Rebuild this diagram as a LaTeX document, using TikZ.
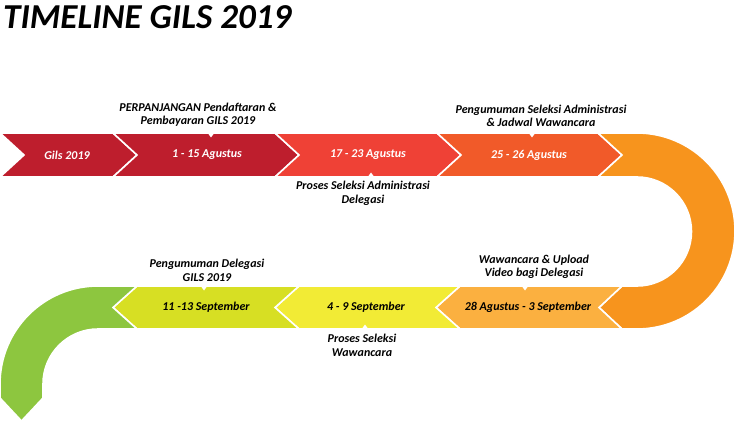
\documentclass[tikz,border=0pt]{standalone}
\usepackage{fontspec}
\setmainfont{Carlito}
\usepackage{tikz}
\usetikzlibrary{positioning}

\definecolor{crimson}{HTML}{BE1E2D}
\definecolor{redor}{HTML}{EF4136}
\definecolor{deepor}{HTML}{F15A29}
\definecolor{orangec}{HTML}{F7941D}
\definecolor{lightor}{HTML}{FBB040}
\definecolor{yell}{HTML}{F2EB35}
\definecolor{lime}{HTML}{D7DF23}
\definecolor{greenc}{HTML}{8DC63F}

\tikzset{
  band/.style={draw=white, line width=1.6pt, line join=miter},
  notch/.style={fill=white},
  bandtext/.style={font=\fontsize{12}{14}\selectfont\bfseries\itshape},
  infotext/.style={font=\fontsize{12}{13.5}\selectfont\bfseries\itshape, align=center, inner sep=1pt}
}

\begin{document}
\begin{tikzpicture}[x=1pt, y=-1pt]
    \useasboundingbox (0,0) rectangle (736,422);

    % --- title ---
    \node[anchor=base west, inner sep=0pt, font=\fontsize{35}{40}\selectfont\bfseries\itshape] (title) at (3,29) {TIMELINE GILS 2019};

    % --- top row ---
    \path[band, fill=crimson] (0,133) -- (113,133) -- (137,155) -- (113,177) -- (0,177) -- (24,155) -- cycle;
    \path[band, fill=crimson] (113,133) -- (275,133) -- (299,155) -- (275,177) -- (113,177) -- (137,155) -- cycle;
    \path[band, fill=redor] (275,133) -- (437,133) -- (461,155) -- (437,177) -- (275,177) -- (299,155) -- cycle;
    \path[band, fill=deepor] (437,133) -- (598,133) -- (622,155) -- (598,177) -- (437,177) -- (461,155) -- cycle;

    % --- bend ---
    \path[band, fill=orangec] (598,133) -- (637,133) arc[start angle=-90, end angle=90, radius=98]
        -- (622,329) -- (599,307.5) -- (622,286) -- (637,286)
        arc[start angle=90, end angle=-90, radius=54.5] -- (598,177) -- (622,155) -- cycle;

    % --- bottom row ---
    \path[band, fill=lightor] (460,286) -- (622,286) -- (599,307.5) -- (622,329) -- (460,329) -- (436,307.5) -- cycle;
    \path[band, fill=yell] (299,286) -- (460,286) -- (436,307.5) -- (460,329) -- (299,329) -- (275,307.5) -- cycle;
    \path[band, fill=lime] (137,286) -- (299,286) -- (275,307.5) -- (299,329) -- (137,329) -- (113,307.5) -- cycle;
    \path[band, fill=greenc] (137,286) -- (98,286) arc[start angle=-90, end angle=-180, radius=98]
        -- (0,398) -- (21.5,421) -- (43,398) -- (43,384)
        arc[start angle=180, end angle=270, radius=55] -- (137,329) -- (113,307.5) -- cycle;

    % --- pointers ---
    \fill[notch] (207,132) -- (215,132) -- (211,137.5) -- cycle;
    \fill[notch] (367,178) -- (375,178) -- (371,172.5) -- cycle;
    \fill[notch] (528,132) -- (536,132) -- (532,137.5) -- cycle;
    \fill[notch] (521,285) -- (529,285) -- (525,290.5) -- cycle;
    \fill[notch] (361,330) -- (369,330) -- (365,324.5) -- cycle;
    \fill[notch] (200,285) -- (208,285) -- (204,290.5) -- cycle;

    % --- dates ---
    \node[bandtext, white] (gils) at (67,155) {Gils 2019};
    \node[bandtext, white] (daftar) at (207,155) {1 - 15 Agustus};
    \node[bandtext, white] (seleksi) at (368,155) {17 - 23 Agustus};
    \node[bandtext, white] (umum) at (529,155) {25 - 26 Agustus};
    \node[bandtext] (wawan) at (528,307.5) {28 Agustus - 3 September};
    \node[bandtext] (proses) at (366,307.5) {4 - 9 September};
    \node[bandtext] (hasil) at (206,307.5) {11 -13 September};

    % --- notes ---
    \node[infotext, anchor=south] (daftarinfo) at (198,128) {PERPANJANGAN Pendaftaran \&\\Pembayaran GILS 2019};
    \node[infotext, anchor=north] (seleksiinfo) at (363,180) {Proses Seleksi Administrasi\\Delegasi};
    \node[infotext, anchor=south] (umuminfo) at (541,128) {Pengumuman Seleksi Administrasi\\\& Jadwal Wawancara};
    \node[infotext, anchor=south] (wawaninfo) at (534,280) {Wawancara \& Upload\\Video bagi Delegasi};
    \node[infotext, anchor=north] (prosesinfo) at (362,333) {Proses Seleksi\\Wawancara};
    \node[infotext, anchor=south] (hasilinfo) at (207,282.5) {Pengumuman Delegasi\\GILS 2019};
\end{tikzpicture}
\end{document}
